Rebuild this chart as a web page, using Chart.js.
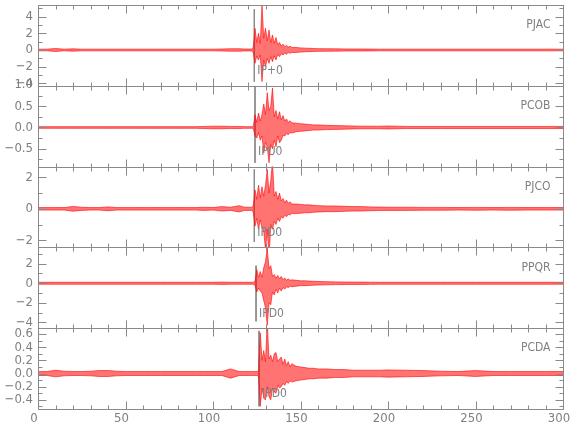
<!DOCTYPE html>
<html>
<head>
<meta charset="utf-8">
<script src="https://cdn.jsdelivr.net/npm/chart.js@4.4.0/dist/chart.umd.min.js"></script>
<style>
  html, body { margin: 0; padding: 0; background: #fff; }
  #wrap { width: 580px; height: 440px; }
</style>
</head>
<body>
<div id="wrap"><canvas id="seis" width="580" height="440"></canvas></div>
<script>
// time grid (s) shared by all traces; values are the max / min of each trace around that time
const times = [0,5,10,15,20,25,30,35,40,45,50,55,60,65,70,75,80,85,90,95,100,105,110,115,
  118,120,121,122,
  123,124,125,126,127,128,129,130,131,132,133,134,135,136,137,138,139,140,141,142,143,144,145,
  147.5,150,152.5,155,157.5,160,
  165,170,175,180,185,190,195,200,
  210,220,230,240,250,260,270,280,290,300];

const stations = ['PJAC', 'PCOB', 'PJCO', 'PPQR', 'PCDA'];

const pjacHi = [0.1,0.1,0.18,0.1,0.14,0.1,0.1,0.1,0.1,0.1,0.1,0.1,0.1,0.1,0.1,0.1,0.1,0.1,0.1,0.1,0.1,0.12,0.15,0.15,
  0.12,0.12,0.12,0.12,
  0.3,2.6,0.9,2.0,0.8,5.4,1.4,2.6,1.1,2.4,0.9,1.8,0.8,1.5,0.6,0.9,0.5,0.7,0.4,0.55,0.35,0.45,0.3,
  0.3,0.25,0.22,0.2,0.18,0.16,
  0.15,0.14,0.13,0.12,0.12,0.11,0.1,0.1,
  0.1,0.1,0.1,0.1,0.1,0.1,0.1,0.1,0.1,0.1];
const pjacLo = [-0.1,-0.1,-0.18,-0.1,-0.14,-0.1,-0.1,-0.1,-0.1,-0.1,-0.1,-0.1,-0.1,-0.1,-0.1,-0.1,-0.1,-0.1,-0.1,-0.1,-0.1,-0.12,-0.15,-0.15,
  -0.12,-0.12,-0.12,-0.12,
  -0.3,-1.6,-0.7,-1.2,-0.6,-3.8,-1.2,-2.0,-1.0,-1.6,-0.8,-1.4,-0.7,-1.2,-0.5,-0.8,-0.45,-0.6,-0.35,-0.5,-0.3,-0.4,-0.3,
  -0.3,-0.25,-0.22,-0.2,-0.18,-0.16,
  -0.15,-0.14,-0.13,-0.12,-0.12,-0.11,-0.1,-0.1,
  -0.1,-0.1,-0.1,-0.1,-0.1,-0.1,-0.1,-0.1,-0.1,-0.1];

const pcobHi = [0.02,0.02,0.02,0.02,0.02,0.02,0.02,0.02,0.02,0.02,0.02,0.02,0.02,0.02,0.02,0.02,0.02,0.02,0.02,0.025,0.03,0.03,0.025,0.025,
  0.02,0.02,0.02,0.02,
  0.02,0.3,0.12,0.34,0.15,0.3,0.55,0.3,0.82,0.4,0.5,0.93,0.25,0.4,0.2,0.37,0.18,0.28,0.15,0.2,0.12,0.16,0.11,
  0.1,0.09,0.08,0.07,0.06,0.06,
  0.05,0.045,0.04,0.035,0.03,0.03,0.03,0.035,
  0.025,0.025,0.025,0.025,0.025,0.025,0.025,0.025,0.025,0.025];
const pcobLo = [-0.02,-0.02,-0.02,-0.02,-0.02,-0.02,-0.02,-0.02,-0.02,-0.02,-0.02,-0.02,-0.02,-0.02,-0.02,-0.02,-0.02,-0.02,-0.02,-0.025,-0.03,-0.03,-0.025,-0.025,
  -0.02,-0.02,-0.02,-0.02,
  -0.02,-0.2,-0.25,-0.12,-0.3,-0.2,-0.6,-0.35,-0.45,-0.83,-0.4,-0.5,-0.3,-0.45,-0.2,-0.36,-0.3,-0.18,-0.2,-0.14,-0.17,-0.12,-0.13,
  -0.1,-0.09,-0.08,-0.07,-0.06,-0.06,
  -0.05,-0.045,-0.04,-0.035,-0.03,-0.03,-0.03,-0.035,
  -0.025,-0.025,-0.025,-0.025,-0.025,-0.025,-0.025,-0.025,-0.025,-0.025];

const pjcoHi = [0.08,0.08,0.08,0.08,0.15,0.1,0.08,0.08,0.12,0.08,0.08,0.08,0.08,0.08,0.08,0.08,0.08,0.08,0.08,0.1,0.08,0.14,0.1,0.2,
  0.1,0.1,0.1,0.1,
  0.2,1.2,0.6,1.5,0.7,1.4,0.8,1.5,2.5,1.0,1.8,3.0,0.8,1.1,0.6,1.0,0.5,0.65,0.4,0.55,0.35,0.45,0.3,
  0.3,0.28,0.25,0.25,0.22,0.2,
  0.18,0.18,0.16,0.14,0.14,0.12,0.11,0.1,
  0.1,0.09,0.09,0.08,0.09,0.08,0.09,0.08,0.08,0.08];
const pjcoLo = [-0.08,-0.08,-0.08,-0.08,-0.15,-0.1,-0.08,-0.08,-0.12,-0.08,-0.08,-0.08,-0.08,-0.08,-0.08,-0.08,-0.08,-0.08,-0.08,-0.1,-0.08,-0.14,-0.1,-0.2,
  -0.1,-0.1,-0.1,-0.1,
  -0.2,-1.1,-0.6,-1.3,-0.7,-1.2,-1.4,-2.6,-1.3,-3.2,-1.0,-1.3,-0.8,-1.0,-0.6,-0.8,-0.5,-0.6,-0.4,-0.5,-0.35,-0.4,-0.3,
  -0.3,-0.28,-0.25,-0.25,-0.22,-0.2,
  -0.18,-0.18,-0.16,-0.14,-0.14,-0.12,-0.11,-0.1,
  -0.1,-0.09,-0.09,-0.08,-0.09,-0.08,-0.09,-0.08,-0.08,-0.08];

const ppqrHi = [0.1,0.1,0.1,0.1,0.1,0.1,0.1,0.1,0.1,0.1,0.1,0.1,0.1,0.1,0.1,0.1,0.1,0.1,0.1,0.1,0.1,0.12,0.1,0.1,
  0.1,0.1,0.1,0.1,
  0.1,0.2,1.4,0.6,1.2,0.6,1.6,2.2,3.6,1.5,1.8,0.7,0.9,0.5,0.8,0.45,0.7,0.35,0.55,0.3,0.45,0.3,0.35,
  0.3,0.25,0.25,0.22,0.2,0.18,
  0.16,0.14,0.13,0.12,0.12,0.11,0.1,0.1,
  0.1,0.1,0.1,0.1,0.1,0.1,0.1,0.1,0.1,0.1];
const ppqrLo = [-0.1,-0.1,-0.1,-0.1,-0.1,-0.1,-0.1,-0.1,-0.1,-0.1,-0.1,-0.1,-0.1,-0.1,-0.1,-0.1,-0.1,-0.1,-0.1,-0.1,-0.1,-0.12,-0.1,-0.1,
  -0.1,-0.1,-0.1,-0.1,
  -0.1,-0.2,-0.9,-0.5,-0.8,-1.0,-1.8,-2.5,-4.3,-2.0,-2.2,-0.9,-1.2,-0.6,-1.0,-0.5,-0.8,-0.45,-0.6,-0.35,-0.45,-0.3,-0.35,
  -0.3,-0.25,-0.25,-0.22,-0.2,-0.18,
  -0.16,-0.14,-0.13,-0.12,-0.12,-0.11,-0.1,-0.1,
  -0.1,-0.1,-0.1,-0.1,-0.1,-0.1,-0.1,-0.1,-0.1,-0.1];

const pcdaHi = [0.03,0.03,0.05,0.035,0.03,0.03,0.035,0.045,0.045,0.035,0.03,0.03,0.03,0.03,0.03,0.03,0.03,0.03,0.03,0.03,0.03,0.03,0.07,0.03,
  0.03,0.03,0.03,0.03,
  0.03,0.03,0.03,0.04,0.62,0.2,0.35,0.18,0.8,0.22,0.28,0.18,0.3,0.32,0.18,0.22,0.25,0.14,0.22,0.12,0.18,0.1,0.15,
  0.11,0.1,0.09,0.08,0.08,0.07,
  0.07,0.06,0.06,0.05,0.05,0.05,0.05,0.055,
  0.05,0.045,0.035,0.03,0.045,0.03,0.03,0.03,0.03,0.03];
const pcdaLo = [-0.03,-0.03,-0.05,-0.035,-0.03,-0.03,-0.035,-0.045,-0.045,-0.035,-0.03,-0.03,-0.03,-0.03,-0.03,-0.03,-0.03,-0.03,-0.03,-0.03,-0.03,-0.03,-0.07,-0.03,
  -0.03,-0.03,-0.03,-0.03,
  -0.03,-0.03,-0.03,-0.04,-0.5,-0.22,-0.38,-0.4,-0.2,-0.35,-0.4,-0.22,-0.28,-0.3,-0.18,-0.22,-0.2,-0.15,-0.18,-0.12,-0.15,-0.11,-0.13,
  -0.11,-0.1,-0.09,-0.08,-0.08,-0.07,
  -0.07,-0.06,-0.06,-0.05,-0.05,-0.05,-0.05,-0.055,
  -0.05,-0.045,-0.035,-0.03,-0.045,-0.03,-0.03,-0.03,-0.03,-0.03];

const highs = [pjacHi, pcobHi, pjcoHi, ppqrHi, pcdaHi];
const lows = [pjacLo, pcobLo, pjcoLo, ppqrLo, pcdaLo];

// axis ranges and labelled ticks per panel
const yRanges = [[-4.3, 5.4], [-0.92, 0.98], [-2.45, 2.68], [-4.6, 3.67], [-0.54, 0.69]];
const yMajor = [[-4, -2, 0, 2, 4], [-0.5, 0, 0.5, 1.0], [-2, 0, 2], [-4, -2, 0, 2], [-0.4, -0.2, 0, 0.2, 0.4, 0.6]];
const yMinorStep = [1, 0.25, 1, 1, 0.1];
const yDecimals = [0, 1, 0, 0, 1];

// P picks: time, extent of the marker line, phase label
const pickTimes = [123.6, 124.0, 123.6, 124.6, 126.3];
const pickTop = [4.9, 0.98, 2.5, 1.8, 0.65];
const pickBottom = [-3.8, -0.83, -2.1, -3.9, -0.5];
const pickLabels = ['IP+0', 'IPU0', 'IPD0', 'IPD0', 'IPD0'];

const gray = '#808080';
const fontFam = "'Liberation Sans Narrow', 'DejaVu Sans Condensed', 'Liberation Sans', sans-serif";

Chart.defaults.font.family = fontFam;
Chart.defaults.font.size = 13;
Chart.defaults.color = gray;

const datasets = [];
stations.forEach((name, p) => {
  datasets.push({
    label: name + ' max',
    data: times.map((t, i) => ({x: t, y: highs[p][i]})),
    yAxisID: 'y' + p,
    fill: '+1',
    borderColor: '#ff0000',
    backgroundColor: 'rgba(255,0,0,0.55)',
    borderWidth: 0.6,
    pointRadius: 0,
    tension: 0
  });
  datasets.push({
    label: name + ' min',
    data: times.map((t, i) => ({x: t, y: lows[p][i]})),
    yAxisID: 'y' + p,
    fill: false,
    borderColor: '#ff0000',
    borderWidth: 0.6,
    pointRadius: 0,
    tension: 0
  });
});
stations.forEach((name, p) => {
  datasets.push({
    label: name + ' pick',
    data: [{x: pickTimes[p], y: pickTop[p]}, {x: pickTimes[p], y: pickBottom[p]}],
    yAxisID: 'y' + p,
    fill: false,
    borderColor: '#8a8a8a',
    borderWidth: 1,
    pointRadius: 0
  });
});

const scales = {
  x: {
    type: 'linear', position: 'bottom', min: 0, max: 300,
    grid: {display: false, drawTicks: false},
    border: {display: false},
    ticks: {stepSize: 50, padding: 2, labelOffset: -4, maxRotation: 0},
    afterFit(s) { s.height = 31; s.paddingLeft = 0; s.paddingRight = 0; }
  }
};
stations.forEach((name, p) => {
  scales['y' + p] = {
    type: 'linear', position: 'left', stack: 'traces', stackWeight: 1,
    weight: stations.length - p,
    min: yRanges[p][0], max: yRanges[p][1],
    grid: {display: false, drawTicks: false},
    border: {display: false},
    afterBuildTicks(s) { s.ticks = yMajor[p].map(v => ({value: v})); },
    ticks: {
      padding: 5, autoSkip: false,
      callback: v => v.toFixed(yDecimals[p]).replace('-', '\u2212')
    },
    afterFit(s) { s.width = 38; s.paddingTop = 0; s.paddingBottom = 0; }
  };
});

// panel frames, inward tick marks, station names and pick labels
const panelDecor = {
  id: 'panelDecor',
  afterDatasetsDraw(chart) {
    const ctx = chart.ctx;
    const xs = chart.scales.x;
    const left = chart.chartArea.left, right = chart.chartArea.right;
    ctx.save();
    ctx.strokeStyle = '#8a8a8a';
    ctx.lineWidth = 1;
    const seg = (x1, y1, x2, y2) => { ctx.beginPath(); ctx.moveTo(x1, y1); ctx.lineTo(x2, y2); ctx.stroke(); };
    stations.forEach((name, p) => {
      const ys = chart.scales['y' + p];
      const top = Math.round(ys.top) + 0.5, bot = Math.round(ys.bottom) + 0.5;
      const l = Math.round(left) + 0.5, r = Math.round(right) + 0.5;
      ctx.strokeRect(l, top, r - l, bot - top);
      for (let t = 0; t <= 300; t += 10) {
        const px = Math.round(xs.getPixelForValue(t)) + 0.5;
        const len = t % 50 === 0 ? 8 : 4;
        seg(px, top, px, top + len);
        seg(px, bot, px, bot - len);
      }
      const step = yMinorStep[p];
      const k0 = Math.ceil(yRanges[p][0] / step - 1e-6), k1 = Math.floor(yRanges[p][1] / step + 1e-6);
      for (let k = k0; k <= k1; k++) {
        const v = k * step;
        const isMajor = yMajor[p].some(m => Math.abs(m - v) < 1e-6);
        const py = Math.round(ys.getPixelForValue(v)) + 0.5;
        const len = isMajor ? 8 : 4;
        seg(l, py, l + len, py);
        seg(r, py, r - len, py);
      }
      ctx.fillStyle = gray;
      ctx.font = '12px ' + fontFam;
      ctx.textAlign = 'right';
      ctx.textBaseline = 'middle';
      ctx.fillText(name, r - 13, ys.top + 20);
      ctx.textAlign = 'left';
      ctx.fillText(pickLabels[p], xs.getPixelForValue(pickTimes[p]) + 3, ys.top + 66);
    });
    ctx.restore();
  }
};

new Chart(document.getElementById('seis'), {
  type: 'line',
  data: {datasets: datasets},
  options: {
    responsive: false,
    animation: false,
    devicePixelRatio: 1,
    layout: {padding: {top: 5, right: 17, left: 0, bottom: 0}},
    plugins: {legend: {display: false}, tooltip: {enabled: false}},
    scales: scales
  },
  plugins: [panelDecor]
});
</script>
</body>
</html>
